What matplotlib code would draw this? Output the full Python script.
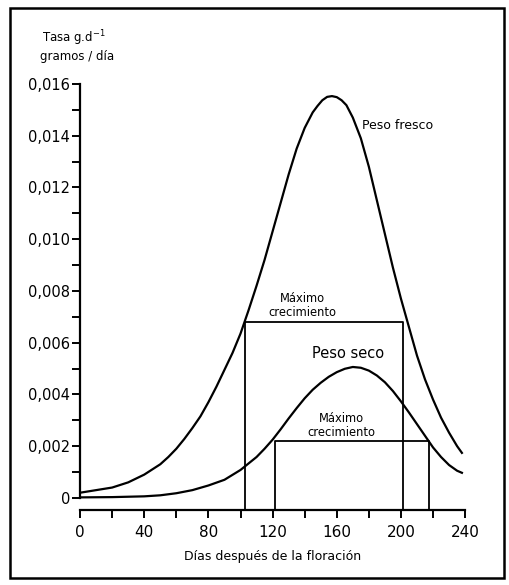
import matplotlib
matplotlib.use("Agg")
import matplotlib.pyplot as plt
from matplotlib.patches import Rectangle
from matplotlib.ticker import MultipleLocator, FuncFormatter

# Curva de peso fresco (días después de la floración, tasa g/día)
dias_fresco = [0, 10, 20, 30, 40, 50, 55, 60, 65, 70, 75, 80, 85, 90, 95, 100, 105, 110,
               115, 120, 125, 130, 135, 140, 145, 148, 151, 154, 157, 160, 163, 166, 170,
               175, 180, 185, 190, 195, 200, 205, 210, 215, 220, 225, 230, 235, 238]
tasa_fresco = [0.0002, 0.0003, 0.0004, 0.0006, 0.0009, 0.0013, 0.00158, 0.0019, 0.00228,
               0.0027, 0.00315, 0.0037, 0.0043, 0.00495, 0.0056, 0.00635, 0.00725, 0.0082,
               0.0092, 0.0103, 0.0114, 0.0125, 0.0135, 0.0143, 0.0149, 0.01515, 0.01537,
               0.01550, 0.01553, 0.01549, 0.01537, 0.01518, 0.0147, 0.0139, 0.0128,
               0.0115, 0.0102, 0.0089, 0.0077, 0.0066, 0.0055, 0.00458, 0.0038, 0.0031,
               0.00252, 0.0020, 0.00174]

# Curva de peso seco
dias_seco = [0, 20, 40, 50, 60, 70, 80, 90, 100, 110, 115, 120, 125, 130, 135, 140, 145,
             150, 155, 160, 165, 170, 175, 180, 185, 190, 195, 200, 205, 210, 215, 220,
             225, 230, 235, 238]
tasa_seco = [0.00002, 0.00003, 0.00006, 0.0001, 0.00018, 0.0003, 0.00048, 0.0007,
             0.00108, 0.00158, 0.0019, 0.00225, 0.00265, 0.00307, 0.00347, 0.00385,
             0.00418, 0.00445, 0.00468, 0.00486, 0.00499, 0.00506, 0.00503, 0.00492,
             0.00473, 0.00447, 0.00413, 0.00373, 0.0033, 0.00285, 0.0024, 0.00195,
             0.00158, 0.00127, 0.00105, 0.00097]

# Intervalos de máximo crecimiento: (inicio, fin, altura)
max_fresco = (102.5, 201, 0.0068)
max_seco = (121.5, 217.5, 0.0022)

fig = plt.figure(figsize=(5.1, 5.85), dpi=100)
ax = fig.add_axes([0.157, 0.129, 0.755, 0.7275])

lw = 1.6
ax.plot(dias_fresco, tasa_fresco, color='black', lw=lw)
ax.plot(dias_seco, tasa_seco, color='black', lw=lw)

ymin = -0.00045
for x0, x1, h in [max_fresco, max_seco]:
    ax.plot([x0, x0, x1, x1], [ymin, h, h, ymin], color='black', lw=1.3, clip_on=False)

ax.set_xlim(0, 240)
ax.set_ylim(ymin, 0.016)

for s in ['top', 'right']:
    ax.spines[s].set_visible(False)
ax.spines['left'].set_bounds(0, 0.016)
ax.spines['left'].set_linewidth(1.6)
ax.spines['bottom'].set_linewidth(1.6)

ax.xaxis.set_major_locator(MultipleLocator(40))
ax.xaxis.set_minor_locator(MultipleLocator(20))
ax.yaxis.set_minor_locator(MultipleLocator(0.001))
ax.set_yticks([0, 0.002, 0.004, 0.006, 0.008, 0.010, 0.012, 0.014, 0.016])
ax.yaxis.set_major_formatter(FuncFormatter(
    lambda v, p: '0' if abs(v) < 1e-9 else f'{v:.3f}'.replace('.', ',')))
ax.tick_params(which='both', direction='out', length=6, width=1.4)
ax.tick_params(axis='x', labelsize=11, pad=5)
ax.tick_params(axis='y', labelsize=10.5, pad=1)

ax.text(176, 0.0144, 'Peso fresco', fontsize=9, ha='left', va='center')
ax.text(167, 0.0056, 'Peso seco', fontsize=10.5, ha='center', va='center')
ax.text(138.5, 0.00743, 'Máximo\ncrecimiento', fontsize=8.3, ha='center', va='center',
        linespacing=1.1)
ax.text(163, 0.00278, 'Máximo\ncrecimiento', fontsize=8.3, ha='center', va='center',
        linespacing=1.1)

ax.set_xlabel('Días después de la floración', fontsize=9, labelpad=7)
fig.text(0.082, 0.935, 'Tasa g.d$^{-1}$', fontsize=8.5, ha='left', va='center')
fig.text(0.078, 0.903, 'gramos / día', fontsize=8.5, ha='left', va='center')

# marco exterior
fig.patches.append(Rectangle((0.02, 0.012), 0.968, 0.975, transform=fig.transFigure,
                             fill=False, edgecolor='black', lw=1.8))

fig.savefig('out.png', dpi=100)
